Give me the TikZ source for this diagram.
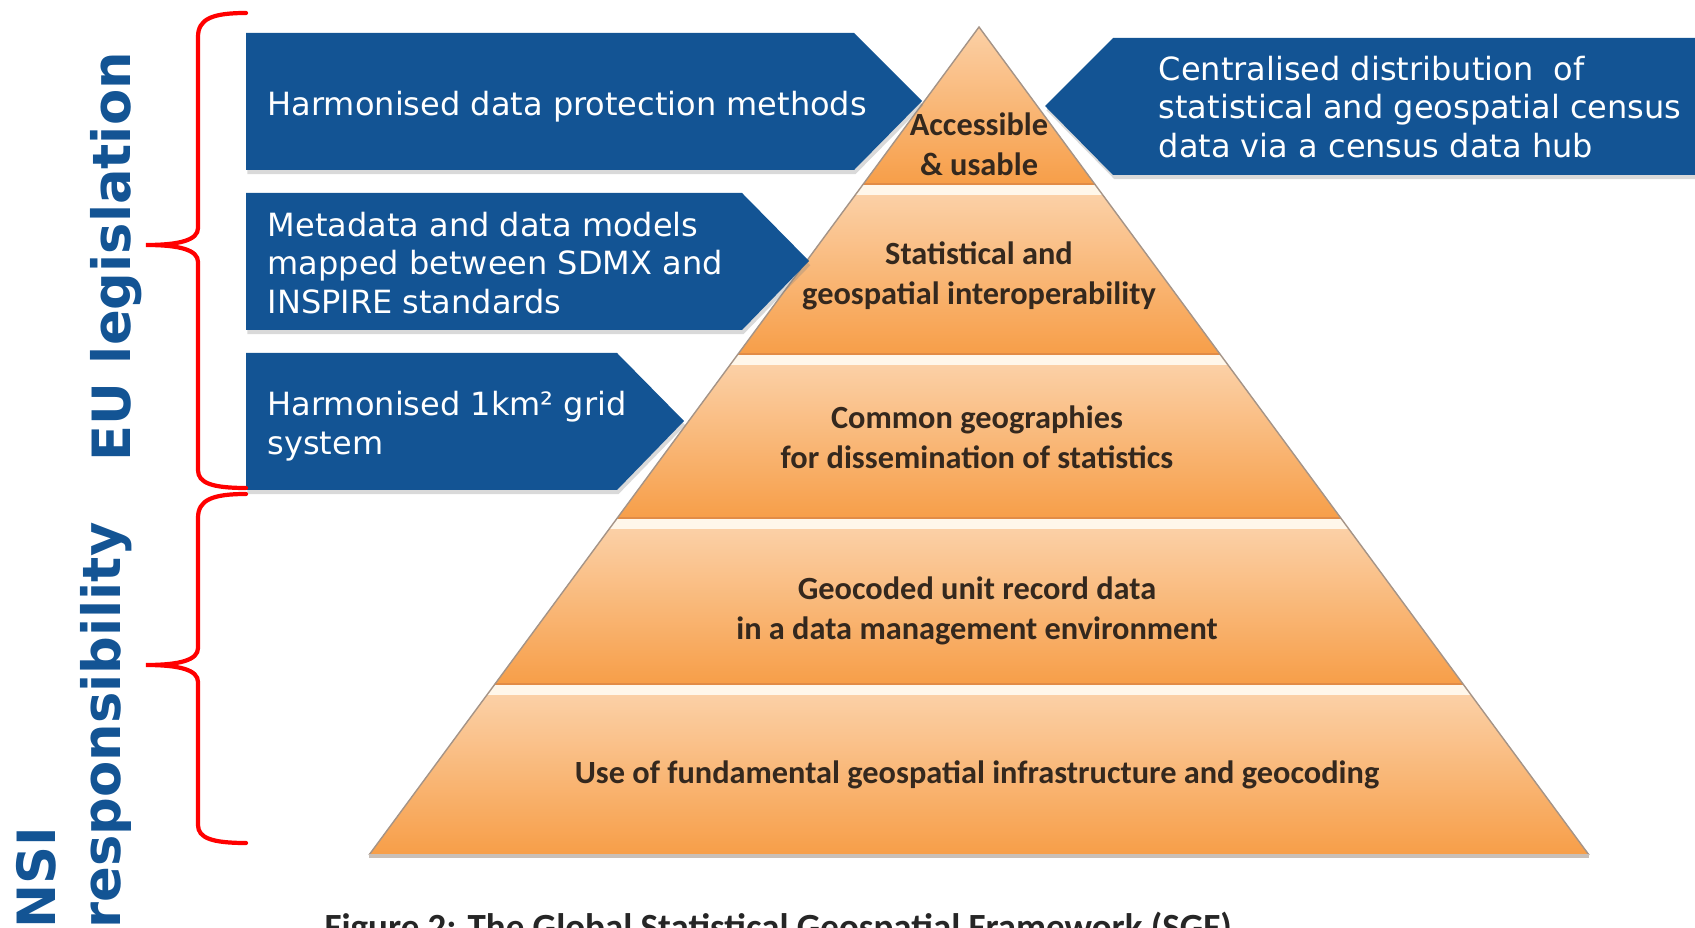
\documentclass[tikz,border=0pt]{standalone}
\usepackage{fontspec}
\setmainfont{DejaVu Sans}
\newfontfamily\pyrfont{Carlito}
\usetikzlibrary{shadows}

\definecolor{boxblue}{RGB}{19,84,148}
\definecolor{tierlight}{RGB}{251,208,166}
\definecolor{tierdark}{RGB}{247,158,72}
\definecolor{tierline}{RGB}{226,140,70}
\definecolor{bandcream}{RGB}{255,247,234}
\definecolor{tieredge}{RGB}{165,148,135}
\definecolor{pyrtext}{RGB}{52,40,30}

\tikzset{
  boxtext/.style={text=white, inner sep=0pt, anchor=west, align=left,
    font=\fontsize{9.1}{10.95}\selectfont},
  tiertext/.style={text=pyrtext, inner sep=0pt, align=center,
    font=\pyrfont\bfseries\fontsize{9.2}{11.4}\selectfont},
  sidetitle/.style={text=boxblue, inner sep=0pt, rotate=90, anchor=base west,
    font=\bfseries\fontsize{15}{18}\selectfont},
  bracket/.style={red, line width=1.2pt, line cap=round},
  arrowbox/.style={fill=boxblue,
    drop shadow={shadow xshift=0.4pt, shadow yshift=-1.2pt, opacity=0.3}}
}

\begin{document}
\begin{tikzpicture}[x=0.01cm, y=-0.01cm]
\useasboundingbox (0,0) rectangle (1695,928);
% Pyramid tiers
\begin{scope}
\clip (979,27) -- (1589,855) -- (369,855) -- cycle;
\foreach \ytop/\ybot in {27/185, 195/355, 365/519, 529/685, 695/855}
	\fill[top color=tierlight, bottom color=tierdark] (350,\ytop) rectangle (1600,\ybot);
% White bands between the tiers
\foreach \yb in {185,355,519,685} {
	\fill[tierline] (350,\yb-2) rectangle (1600,\yb);
	\fill[bandcream] (350,\yb) rectangle (1600,\yb+10);
}
\end{scope}
% Outline of the pyramid
\draw[tieredge, line width=0.4pt] (369,855) -- (979,27) -- (1589,855);
\draw[tieredge!60, line width=1pt] (369,856) -- (1589,856);
% Texts of the tiers
\node[tiertext] (tier1) at (979,144) {Accessible\\\& usable};
\node[tiertext] (tier2) at (979,276) {Statistical and\\geospatial interoperability};
\node[tiertext] (tier3) at (977,437) {Common geographies\\for dissemination of statistics};
\node[tiertext] (tier4) at (977,611) {Geocoded unit record data\\in a data management environment};
\node[tiertext] (tier5) at (977,775) {Use of fundamental geospatial infrastructure and geocoding};
% Blue arrow boxes
\fill[arrowbox] (246,33) -- (854,33) -- (922,101) -- (854,170) -- (246,170) -- cycle;
\fill[arrowbox] (246,193) -- (742,193) -- (809,261) -- (742,330) -- (246,330) -- cycle;
\fill[arrowbox] (246,353) -- (617,353) -- (684,421) -- (617,490) -- (246,490) -- cycle;
\fill[arrowbox] (1695,38) -- (1113,38) -- (1045,106) -- (1113,175) -- (1695,175) -- cycle;
\node[boxtext] (protect) at (267,107) {Harmonised data protection methods};
\node[boxtext] (models) at (267,263) {Metadata and data models\\mapped between SDMX and\\INSPIRE standards};
\node[boxtext] (grid) at (267,426) {Harmonised 1km² grid\\system};
\node[boxtext] (hub) at (1158,107) {Centralised distribution\ \ of\\statistical and geospatial census\\data via a census data hub};
% Braces
\draw[bracket] (246,13) .. controls (212,13) and (198,19) .. (198,37) -- (198,228)
	.. controls (198,240) and (180,245) .. (146,245)
	.. controls (180,245) and (198,250) .. (198,262) -- (198,470)
	.. controls (198,483) and (212,488) .. (246,488);
\draw[bracket] (246,494) .. controls (212,494) and (198,500) .. (198,518) -- (198,648)
	.. controls (198,660) and (180,665) .. (146,665)
	.. controls (180,665) and (198,670) .. (198,682) -- (198,825)
	.. controls (198,838) and (212,843) .. (246,843);
% Side titles
\node[sidetitle] (eu) at (130,462) {EU legislation};
\node[sidetitle] (nsi) at (55,929) {NSI};
\node[sidetitle] (resp) at (120,929) {responsibility};
% Caption, cut by the lower edge
\begin{scope}
\clip (0,0) rectangle (1695,928);
\node[anchor=base west, inner sep=0pt, text=black!85,
	font=\pyrfont\bfseries\fontsize{10.5}{12.6}\selectfont] (caption) at (324,939)
	{Figure 2: The Global Statistical Geospatial Framework (SGF)};
\end{scope}
\end{tikzpicture}
\end{document}
